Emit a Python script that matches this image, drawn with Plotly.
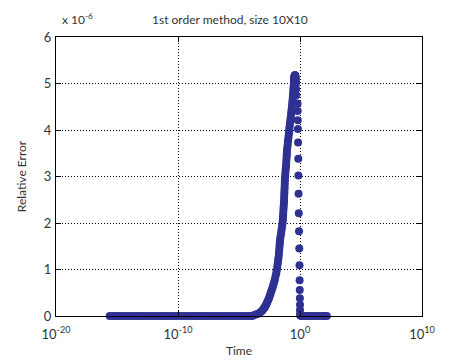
import plotly.graph_objects as go

# log10(time) of each sample, and relative error in units of 1e-6
zero_left_exp = [-15.6, -15.35, -15.1, -14.85, -14.6, -14.35, -14.1, -13.85, -13.6, -13.35,
                 -13.1, -12.85, -12.6, -12.35, -12.1, -11.85, -11.6, -11.35, -11.1, -10.85,
                 -10.6, -10.35, -10.1, -9.85, -9.6, -9.35, -9.1, -8.85, -8.6, -8.35,
                 -8.1, -7.85, -7.6, -7.35, -7.1, -6.85, -6.6, -6.35, -6.1, -5.85,
                 -5.6, -5.35, -5.1, -4.85, -4.6, -4.35, -4.1, -3.9]
zero_left_err = [0.0] * len(zero_left_exp)

rise_exp = [-3.75, -3.55, -3.45, -3.25, -3.15, -3.08, -2.97, -2.92, -2.87, -2.8,
            -2.75, -2.7, -2.64, -2.58, -2.52, -2.47, -2.42, -2.37, -2.32, -2.26,
            -2.21, -2.15, -2.1, -2.05, -2.0, -1.95, -1.91, -1.87, -1.84, -1.81,
            -1.78, -1.75, -1.73, -1.71, -1.69, -1.67, -1.66, -1.64, -1.62, -1.58,
            -1.55, -1.52, -1.49, -1.46, -1.43, -1.41, -1.4, -1.38, -1.37, -1.35,
            -1.34, -1.32, -1.31, -1.3, -1.29, -1.28, -1.27, -1.26, -1.25, -1.24,
            -1.23, -1.21, -1.19, -1.17, -1.15, -1.13, -1.12, -1.1, -1.09, -1.08,
            -1.07, -1.05, -1.02, -1.0, -0.98, -0.95, -0.93, -0.91, -0.89, -0.87,
            -0.85, -0.82, -0.8, -0.77, -0.74, -0.71, -0.69, -0.66, -0.64, -0.62,
            -0.6, -0.58, -0.57, -0.55, -0.54, -0.52, -0.51, -0.5, -0.49, -0.48,
            -0.47, -0.45, -0.44, -0.42, -0.41, -0.39, -0.38, -0.36, -0.35, -0.34,
            -0.33, -0.32, -0.31]
rise_err = [0.02, 0.04, 0.05, 0.08, 0.1, 0.12, 0.16, 0.18, 0.2, 0.23,
            0.26, 0.29, 0.32, 0.36, 0.4, 0.44, 0.48, 0.52, 0.56, 0.6,
            0.65, 0.7, 0.75, 0.8, 0.86, 0.92, 0.98, 1.04, 1.1, 1.16,
            1.22, 1.28, 1.34, 1.4, 1.46, 1.52, 1.57, 1.62, 1.67, 1.73,
            1.78, 1.84, 1.89, 1.95, 2.0, 2.06, 2.12, 2.18, 2.24, 2.3,
            2.36, 2.42, 2.48, 2.54, 2.6, 2.66, 2.72, 2.78, 2.85, 2.92,
            2.98, 3.04, 3.1, 3.16, 3.22, 3.28, 3.34, 3.4, 3.45, 3.5,
            3.55, 3.6, 3.66, 3.72, 3.77, 3.83, 3.88, 3.93, 3.98, 4.03,
            4.08, 4.14, 4.2, 4.26, 4.32, 4.38, 4.44, 4.5, 4.56, 4.62,
            4.67, 4.72, 4.77, 4.83, 4.88, 4.93, 4.98, 5.03, 5.07, 5.1,
            5.13, 5.15, 5.17, 5.18, 5.18, 5.17, 5.16, 5.13, 5.1, 5.05,
            5.0, 4.88, 4.75]

fall_exp = [-0.2, -0.19, -0.18, -0.17, -0.16, -0.14, -0.13, -0.12, -0.1, -0.08,
            -0.06, -0.04, -0.03, -0.02, -0.01, 0.0, 0.0, 0.01, 0.02]
fall_err = [4.57, 4.41, 4.21, 4.02, 3.73, 3.38, 3.02, 2.63, 2.21, 1.82,
            1.45, 1.09, 0.77, 0.56, 0.38, 0.24, 0.13, 0.05, 0.01]

zero_right_exp = [0.1, 0.3, 0.5, 0.7, 0.9, 1.1, 1.3, 1.5, 1.7, 1.9, 2.05, 2.2]
zero_right_err = [0.0] * len(zero_right_exp)

x_tick_vals = [1e-20, 1e-10, 1, 1e10]
x_tick_text = ["10<sup>-20</sup>", "10<sup>-10</sup>", "10<sup>0</sup>", "10<sup>10</sup>"]
y_tick_vals = [0, 1, 2, 3, 4, 5, 6]
y_tick_text = ["0", "1", "2", "3", "4", "5", "6"]

time_exp = zero_left_exp + rise_exp + fall_exp + zero_right_exp
rel_err = zero_left_err + rise_err + fall_err + zero_right_err
time = [10 ** e for e in time_exp]

FONT = "Lato"
TXT = "#333333"
MARK = "rgb(46,49,146)"

fig = go.Figure()
fig.add_trace(go.Scatter(
    x=time, y=rel_err, mode="markers",
    marker=dict(size=8, color=MARK, line=dict(width=0)),
    cliponaxis=False, showlegend=False,
))

axis_common = dict(
    showline=True, linecolor="black", linewidth=1, mirror="ticks",
    ticks="inside", ticklen=5, tickcolor="black",
    showgrid=True, gridcolor="black", griddash="1px,2px", gridwidth=1,
    zeroline=False, tickfont=dict(family=FONT, size=13, color=TXT),
    ticklabeloverflow="allow", automargin=False,
)

fig.update_xaxes(type="log", range=[-20, 10], tickvals=x_tick_vals, ticktext=x_tick_text,
                 title=dict(text="Time", font=dict(family=FONT, size=12, color=TXT), standoff=6),
                 ticklabelstandoff=6, **axis_common)
fig.update_yaxes(range=[0, 6], tickvals=y_tick_vals, ticktext=y_tick_text,
                 title=dict(text="Relative Error", font=dict(family=FONT, size=12, color=TXT), standoff=14),
                 ticklabelstandoff=1, **axis_common)

fig.update_layout(
    width=449, height=363,
    margin=dict(l=56, r=27, t=37, b=47, autoexpand=False),
    paper_bgcolor="white", plot_bgcolor="white",
    title=dict(text="1st order method, size 10X10", x=0.475, xref="paper",
               y=1 - 20 / 363, yanchor="middle", xanchor="center",
               font=dict(family=FONT, size=12, color=TXT)),
    annotations=[dict(text="x 10<sup>-6</sup>", xref="paper", yref="paper",
                      x=0.01, y=1.063, xanchor="left", yanchor="middle", showarrow=False,
                      font=dict(family=FONT, size=12, color=TXT))],
)

fig.write_html("out.html", config={"displayModeBar": False},
               post_script="document.body.style.margin='0';")
